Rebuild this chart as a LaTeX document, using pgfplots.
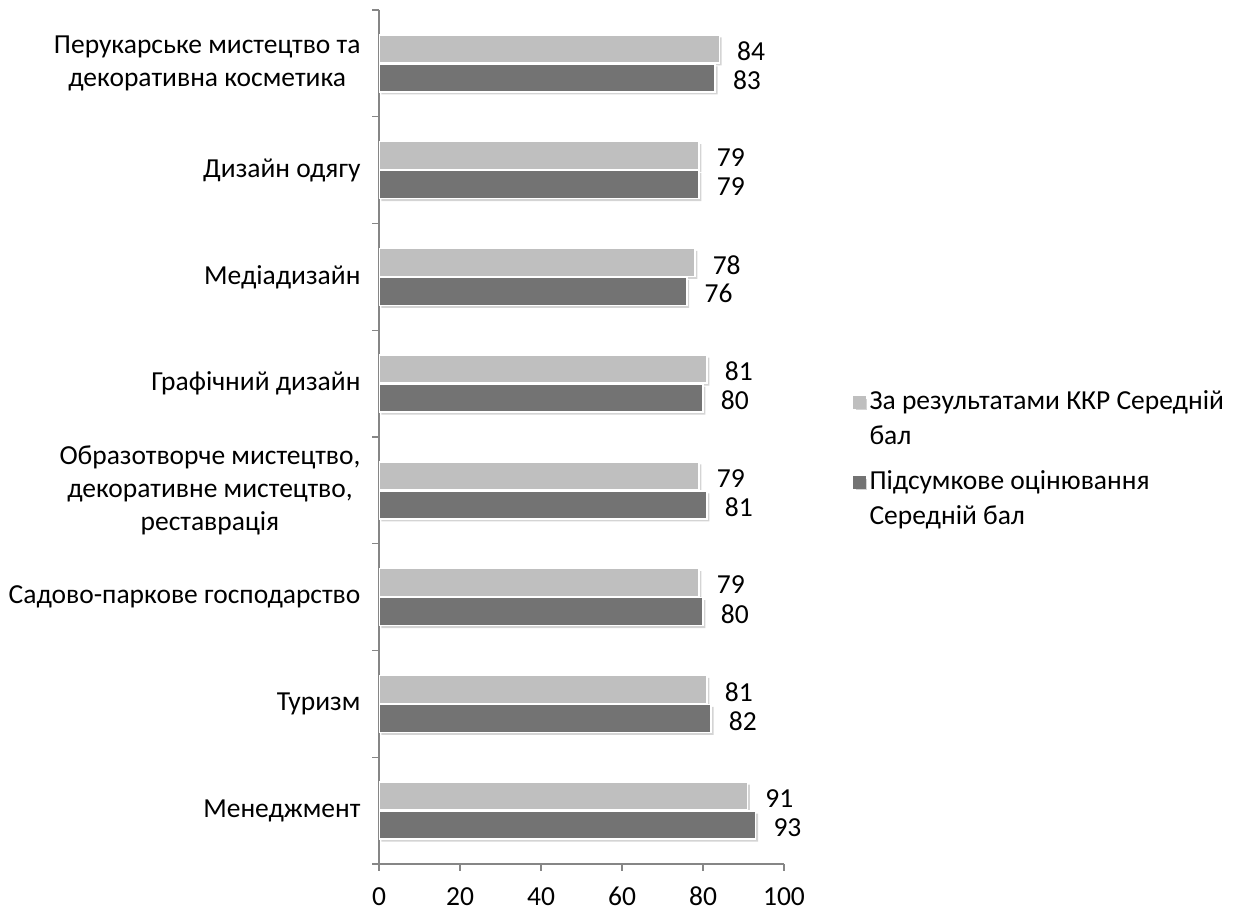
\documentclass[border=0pt]{standalone}
\usepackage{fontspec}
\setmainfont{Carlito}
\usepackage{pgfplots}
\pgfplotsset{compat=1.18}
\definecolor{lightbar}{HTML}{BFBFBF}
\definecolor{darkbar}{HTML}{737373}
\definecolor{axisgray}{HTML}{868686}
\definecolor{shadowgray}{HTML}{D4D4D4}
\begin{document}
\fontsize{13.75}{16.5}\selectfont
\begin{tikzpicture}
\path[use as bounding box] (0,0) rectangle (617.5pt,456.5pt);
\begin{axis}[
  at={(189.5pt,24.5pt)}, anchor=south west,
  scale only axis, width=202.5pt, height=427pt,
  xbar, bar width=14pt,
  xmin=0, xmax=100, ymin=-0.5, ymax=7.5,
  axis x line*=bottom, axis y line*=left,
  axis line style={axisgray, line width=0.6pt},
  tick align=outside,
  xtick={0,20,...,100},
  major tick length=3.5pt, minor tick length=3.5pt,
  every tick/.style={axisgray, line width=0.6pt},
  major y tick style={draw=none},
  ytick={0,...,7},
  minor ytick={-0.5,0.5,...,7.5},
  yticklabels={Менеджмент, Туризм, Садово-паркове господарство, {Образотворче мистецтво,\\декоративне мистецтво,\\реставрація}, Графічний дизайн, Медіадизайн, Дизайн одягу, {Перукарське мистецтво та\\декоративна косметика}},
  yticklabel style={align=center, font=\fontsize{13.75}{16.3}\selectfont, xshift=-1pt},
  xticklabel style={font=\fontsize{13.75}{15}\selectfont, text height=9.5pt, text depth=0pt, anchor=north, yshift=-3pt},
  /pgf/number format/assume math mode=true,
  nodes near coords,
  every node near coord/.append style={font=\fontsize{13.75}{15}\selectfont, black, anchor=west, xshift=4pt, yshift=-1.2pt},
  legend style={at={(1.155,0.473)}, anchor=west, draw=none, fill=none,
    font=\fontsize{13.75}{17.5}\selectfont, row sep=7pt,
    cells={align=left, anchor=west}},
  legend cell align=left,
  barshadow/.style={preaction={fill=shadowgray, draw=none, transform canvas={shift={(1.2pt,-1.2pt)}}}},
]
\addplot[fill=lightbar, draw=white, line width=0.7pt, bar shift=7.25pt, barshadow,
  legend image code/.code={\fill[lightbar] (0pt,6pt) rectangle (5.5pt,11.5pt);}]
  coordinates {(91,0) (81,1) (79,2) (79,3) (81,4) (78,5) (79,6) (84,7)};
\addlegendentry{За результатами ККР Середній\\бал}
\addplot[fill=darkbar, draw=white, line width=0.7pt, bar shift=-7.25pt, barshadow,
  legend image code/.code={\fill[darkbar] (0pt,6pt) rectangle (5.5pt,11.5pt);}]
  coordinates {(93,0) (82,1) (80,2) (81,3) (80,4) (76,5) (79,6) (83,7)};
\addlegendentry{Підсумкове оцінювання\\Середній бал}
\end{axis}
\end{tikzpicture}
\end{document}
